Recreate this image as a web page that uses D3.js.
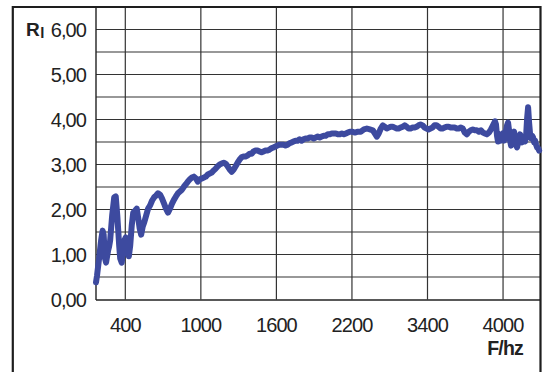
<!DOCTYPE html>
<html>
<head>
<meta charset="utf-8">
<script src="https://cdn.jsdelivr.net/npm/d3@7"></script>
<style>
  html, body { margin: 0; padding: 0; background: #fff; }
  svg { display: block; font-family: "Liberation Sans", Arial, sans-serif; }
</style>
</head>
<body>
<svg id="chart" width="546" height="372"></svg>
<script>
// frequency (Hz) and Rl readings
const freq = [170,178,194,210,222,230,241,249,265,273,281,297,313,325,337,352,360,372,384,392,
  404,416,428,439,451,463,479,491,503,514,526,538,550,566,581,597,613,629,645,660,
  676,692,708,723,739,755,771,787,802,818,834,850,866,881,897,913,929,945,961,976,
  992,1008,1024,1039,1055,1071,1087,1103,1118,1134,1150,1166,1182,1197,1213,1229,1245,1261,1276,1292,
  1308,1324,1339,1355,1371,1387,1403,1418,1434,1450,1466,1482,1497,1513,1529,1545,1560,1576,1592,1608,
  1624,1640,1656,1672,1688,1704,1720,1736,1752,1768,1784,1800,1816,1832,1848,1864,1880,1896,1912,1928,
  1944,1960,1976,1992,2008,2024,2040,2056,2072,2088,2104,2120,2136,2152,2168,2184,2200,2247,2295,2342,
  2390,2437,2484,2532,2563,2595,2626,2658,2690,2721,2753,2784,2816,2848,2879,2911,2942,2974,3006,3037,
  3069,3100,3132,3164,3195,3227,3258,3290,3321,3353,3384,3408,3424,3440,3456,3472,3488,3504,3520,3536,
  3552,3568,3584,3600,3616,3632,3648,3664,3680,3696,3712,3728,3744,3760,3776,3792,3808,3824,3840,3856,
  3872,3888,3904,3920,3936,3944,3952,3960,3968,3976,3984,3992,4000,4008,4016,4024,4032,4040,4048,4056,
  4064,4072,4080,4088,4096,4104,4112,4120,4128,4136,4144,4152,4160,4168,4176,4184,4192,4200,4208,4216,
  4224,4232,4240,4248,4256,4264,4272,4280,4288];
const rl = [0.38,0.53,0.91,1.31,1.53,1.44,0.91,0.82,1.09,1.18,1.31,1.87,2.27,2.29,1.87,1.20,0.91,0.82,1.13,1.31,
  1.38,1.13,0.96,1.20,1.64,1.93,1.98,2.02,1.80,1.58,1.44,1.62,1.71,1.87,2.02,2.09,2.20,2.27,2.31,2.36,
  2.33,2.24,2.13,2.02,1.93,2.02,2.13,2.22,2.29,2.36,2.40,2.44,2.51,2.56,2.62,2.67,2.71,2.73,2.69,2.62,
  2.67,2.69,2.71,2.73,2.78,2.80,2.82,2.87,2.91,2.96,3.00,3.02,3.04,3.02,2.96,2.89,2.84,2.89,2.96,3.04,
  3.11,3.16,3.18,3.18,3.20,3.24,3.24,3.29,3.31,3.31,3.29,3.27,3.29,3.31,3.31,3.33,3.36,3.38,3.40,3.42,
  3.44,3.44,3.44,3.42,3.44,3.47,3.49,3.51,3.53,3.53,3.56,3.53,3.56,3.58,3.58,3.60,3.60,3.58,3.60,3.62,
  3.60,3.62,3.64,3.64,3.67,3.67,3.69,3.69,3.69,3.67,3.67,3.69,3.67,3.69,3.71,3.73,3.73,3.71,3.73,3.73,
  3.78,3.80,3.78,3.76,3.69,3.62,3.69,3.80,3.87,3.84,3.80,3.82,3.84,3.84,3.82,3.80,3.80,3.82,3.84,3.87,
  3.84,3.80,3.80,3.82,3.82,3.84,3.87,3.89,3.87,3.82,3.80,3.78,3.80,3.82,3.87,3.87,3.84,3.80,3.80,3.82,
  3.84,3.84,3.82,3.82,3.82,3.80,3.80,3.82,3.80,3.71,3.67,3.73,3.76,3.78,3.76,3.76,3.73,3.76,3.71,3.69,
  3.67,3.71,3.78,3.87,3.96,3.89,3.64,3.51,3.58,3.67,3.53,3.62,3.69,3.53,3.60,3.76,3.87,3.93,3.76,3.53,
  3.42,3.53,3.69,3.73,3.58,3.44,3.38,3.47,3.58,3.67,3.58,3.49,3.56,3.62,3.51,3.64,4.02,4.27,3.93,3.67,
  3.58,3.64,3.60,3.49,3.53,3.44,3.38,3.36,3.31];

const xTicks = [400, 1000, 1600, 2200, 3400, 4000];
const yMax = 6.5;
const yGrid = d3.range(0.5, 6.01, 0.5);
const yLabels = d3.range(0, 6.01, 1);

chart = {};
chart.svg = d3.select("#chart");
chart.left = 96; chart.right = 540; chart.top = 7; chart.bottom = 299.5;
chart.step = 75.55;

// tick labels are not evenly spaced in Hz, so the scale is piecewise
chart.x = d3.scaleLinear()
  .domain([170].concat(xTicks, [4295]))
  .range([chart.left].concat(xTicks.map((d, i) => chart.left + 29.3 + i * chart.step), [chart.right]));
chart.y = d3.scaleLinear().domain([0, yMax]).range([chart.bottom, chart.top]);

chart.fmt = d3.formatLocale({decimal: ",", thousands: ".", grouping: [3], currency: ["", ""]}).format(".2f");

// grid
chart.svg.append("g").selectAll("line").data(yGrid).join("line")
  .attr("x1", chart.left).attr("x2", chart.right)
  .attr("y1", d => chart.y(d)).attr("y2", d => chart.y(d))
  .style("stroke", "#333").style("stroke-width", 1.2);

chart.svg.append("g").selectAll("line").data(xTicks).join("line")
  .attr("x1", d => chart.x(d)).attr("x2", d => chart.x(d))
  .attr("y1", chart.top).attr("y2", chart.bottom)
  .style("stroke", "#333").style("stroke-width", 1.2);

// plot borders
chart.svg.append("line")
  .attr("x1", chart.left).attr("x2", chart.left).attr("y1", chart.top).attr("y2", chart.bottom + 0.5)
  .style("stroke", "#222").style("stroke-width", 1.4);
chart.svg.append("line")
  .attr("x1", chart.left).attr("x2", chart.right).attr("y1", chart.bottom + 0.5).attr("y2", chart.bottom + 0.5)
  .style("stroke", "#222").style("stroke-width", 1.6);

// outer frame
chart.svg.append("path")
  .attr("d", "M12.8,372 L12.8,7 L540.5,7 L540.5,372")
  .style("fill", "none").style("stroke", "#1e1e1e").style("stroke-width", 2.2);

// data line
chart.data = freq.map((f, i) => ({f: f, v: rl[i]}));
chart.line = d3.line().x(d => chart.x(d.f)).y(d => chart.y(d.v));
chart.svg.append("path")
  .datum(chart.data)
  .attr("d", chart.line)
  .style("fill", "none")
  .style("stroke", "#3d4a9f")
  .style("stroke-width", 6)
  .style("stroke-linejoin", "round")
  .style("stroke-linecap", "round");

// y labels
chart.svg.append("g").selectAll("text").data(yLabels).join("text")
  .attr("x", 86).attr("y", d => chart.y(d) + 7.5)
  .attr("text-anchor", "end")
  .attr("font-size", 20)
  .attr("letter-spacing", -0.9)
  .style("fill", "#222")
  .text(d => chart.fmt(d));

// x labels
chart.svg.append("g").selectAll("text").data(xTicks).join("text")
  .attr("x", d => chart.x(d)).attr("y", 331.5)
  .attr("text-anchor", "middle")
  .attr("font-size", 20)
  .attr("letter-spacing", -0.9)
  .style("fill", "#222")
  .text(d => d);

// axis titles
chart.ylab = chart.svg.append("text")
  .attr("x", 26).attr("y", 35.5)
  .attr("font-size", 19).attr("font-weight", "bold")
  .attr("letter-spacing", -0.5)
  .style("fill", "#222");
chart.ylab.append("tspan").text("R");
chart.ylab.append("tspan").attr("font-size", 15).attr("dy", 2).attr("dx", 1).text("l");

chart.svg.append("text")
  .attr("x", 523).attr("y", 355)
  .attr("text-anchor", "end")
  .attr("font-size", 19.5).attr("font-weight", "bold")
  .attr("letter-spacing", -0.8)
  .style("fill", "#222")
  .text("F/hz");
</script>
</body>
</html>
